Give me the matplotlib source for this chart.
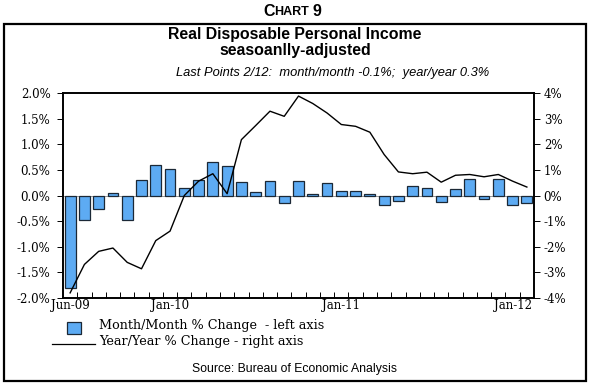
#!/usr/bin/env python3
import numpy as np
import matplotlib
matplotlib.use("Agg")
from matplotlib import pyplot as plt
from matplotlib.patches import Rectangle
from matplotlib.lines import Line2D

# Monthly data, Jun-09 .. Feb-12
months = ["Jun-09", "Jul-09", "Aug-09", "Sep-09", "Oct-09", "Nov-09", "Dec-09",
          "Jan-10", "Feb-10", "Mar-10", "Apr-10", "May-10", "Jun-10", "Jul-10",
          "Aug-10", "Sep-10", "Oct-10", "Nov-10", "Dec-10",
          "Jan-11", "Feb-11", "Mar-11", "Apr-11", "May-11", "Jun-11", "Jul-11",
          "Aug-11", "Sep-11", "Oct-11", "Nov-11", "Dec-11",
          "Jan-12", "Feb-12"]
mom = [-1.80, -0.47, -0.27, 0.04, -0.47, 0.30, 0.59,
       0.51, 0.15, 0.30, 0.66, 0.58, 0.26, 0.07,
       0.29, -0.15, 0.29, 0.02, 0.24,
       0.08, 0.09, 0.03, -0.18, -0.10, 0.19, 0.14,
       -0.12, 0.12, 0.33, -0.06, 0.33,
       -0.18, -0.14]
yoy = [-3.80, -2.69, -2.18, -2.05, -2.61, -2.86, -1.76,
       -1.39, 0.00, 0.56, 0.85, 0.07, 2.18, 2.73,
       3.29, 3.09, 3.88, 3.59, 3.22,
       2.77, 2.70, 2.47, 1.60, 0.92, 0.85, 0.91,
       0.52, 0.79, 0.82, 0.73, 0.82,
       0.56, 0.33]
label_months = ["Jun-09", "Jan-10", "Jan-11", "Jan-12"]
left_ticks = [-2.0, -1.5, -1.0, -0.5, 0.0, 0.5, 1.0, 1.5, 2.0]
right_ticks = [-4, -3, -2, -1, 0, 1, 2, 3, 4]

bar_color = "#5dabf3"
edge_color = "#1b2836"
serif = "DejaVu Serif"
sans = "Liberation Sans"

fig = plt.figure(figsize=(5.91, 3.85), dpi=100)
W, H = 591, 385

def fx(px):
    return px / W

def fy(py):
    return 1 - py / H

# outer frame
fig.patches.append(Rectangle((fx(4), fy(381)), fx(582), (381 - 24) / H,
                             transform=fig.transFigure, fill=False,
                             edgecolor="black", linewidth=1.6))

ax = fig.add_axes([fx(63), fy(298), fx(534 - 63), (298 - 93) / H])
x = np.arange(len(months))
ax.bar(x, mom, width=0.76, color=bar_color, edgecolor=edge_color, linewidth=0.9, zorder=2)
ax.set_xlim(-0.5, len(months) - 0.5)
ax.set_ylim(-2.0, 2.0)
ax.set_yticks(left_ticks)
ax.set_yticklabels([f"{v:.1f}%" for v in left_ticks])
ax.axhline(0, color="#888888", linewidth=0.6, zorder=1)

ax.set_xticks([months.index(m) for m in label_months])
ax.set_xticklabels(label_months)
ax.set_xticks(np.arange(0.5, len(months) - 0.5, 1.0), minor=True)
ax.tick_params(axis="x", which="major", length=0, pad=1)
ax.tick_params(axis="x", which="minor", direction="in", length=4, width=0.7)
ax.tick_params(axis="y", direction="out", length=4, width=0.7, pad=5)
for lab in ax.get_xticklabels() + ax.get_yticklabels():
    lab.set_fontfamily(serif)
    lab.set_fontsize(8.5)

ax2 = ax.twinx()
ax2.plot(x, yoy, color="black", linewidth=1.0, zorder=3)
ax2.set_ylim(-4, 4)
ax2.set_yticks(right_ticks)
ax2.set_yticklabels([f"{v}%" for v in right_ticks])
ax2.tick_params(axis="y", direction="out", length=4, width=0.7, pad=3)
for lab in ax2.get_yticklabels():
    lab.set_fontfamily(serif)
    lab.set_fontsize(8.5)
for a in (ax, ax2):
    for s in a.spines.values():
        s.set_linewidth(1.2)

# "CHART 9" in small caps: three pieces laid out side by side
renderer = fig.canvas.get_renderer()
parts = [("C", 11.5, 11.0), ("HART", 9.0, 11.8), ("9", 11.5, 11.0)]
texts = [fig.text(0, fy(py), s, fontsize=fs, fontweight="bold", family=sans,
                  ha="left", va="center") for s, fs, py in parts]
widths = [t.get_window_extent(renderer).width for t in texts]
gap = 3
total = sum(widths) + gap
cur = 292 - total / 2
for i, (t, w) in enumerate(zip(texts, widths)):
    t.set_x(fx(cur))
    cur += w + (gap if i == 1 else 0)

fig.text(fx(295), fy(35), "Real Disposable Personal Income", fontsize=11.4,
         fontweight="bold", family=sans, ha="center", va="center")
fig.text(fx(295), fy(50), "seasoanlly-adjusted", fontsize=11.4,
         fontweight="bold", family=sans, ha="center", va="center")
fig.text(fx(333), fy(73), "Last Points 2/12:  month/month -0.1%;  year/year 0.3%",
         fontsize=9.3, style="italic", family=sans, ha="center", va="center")

# legend
fig.patches.append(Rectangle((fx(67), fy(334)), fx(14), 12 / H,
                             transform=fig.transFigure, facecolor=bar_color,
                             edgecolor=edge_color, linewidth=0.9))
fig.text(fx(99), fy(326), "Month/Month % Change  - left axis", fontsize=9.2,
         family=serif, ha="left", va="center")
fig.lines.append(Line2D([fx(52), fx(95)], [fy(344), fy(344)],
                        transform=fig.transFigure, color="black", linewidth=0.9))
fig.text(fx(99), fy(341), "Year/Year % Change - right axis", fontsize=9.2,
         family=serif, ha="left", va="center")

fig.text(fx(295), fy(369), "Source: Bureau of Economic Analysis", fontsize=8.8,
         family=sans, ha="center", va="center")

fig.savefig("out.png", dpi=100)
